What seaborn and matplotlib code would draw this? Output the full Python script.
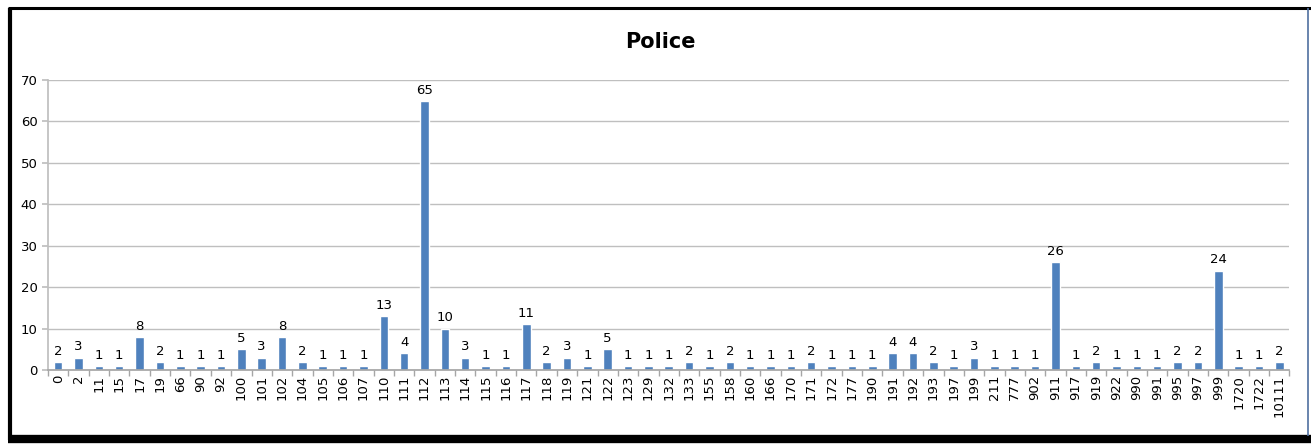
import matplotlib
matplotlib.use("Agg")
import matplotlib.pyplot as plt
import seaborn as sns
import pandas as pd
from matplotlib.lines import Line2D

categories = ["0", "2", "11", "15", "17", "19", "66", "90", "92", "100", "101", "102",
              "104", "105", "106", "107", "110", "111", "112", "113", "114", "115", "116",
              "117", "118", "119", "121", "122", "123", "129", "132", "133", "155", "158",
              "160", "166", "170", "171", "172", "177", "190", "191", "192", "193", "197",
              "199", "211", "777", "902", "911", "917", "919", "922", "990", "991", "995",
              "997", "999", "1720", "1722", "10111"]
values = [2, 3, 1, 1, 8, 2, 1, 1, 1, 5, 3, 8, 2, 1, 1, 1, 13, 4, 65, 10, 3, 1, 1, 11, 2, 3,
          1, 5, 1, 1, 1, 2, 1, 2, 1, 1, 1, 2, 1, 1, 1, 4, 4, 2, 1, 3, 1, 1, 1, 26, 1, 2, 1,
          1, 1, 2, 2, 24, 1, 1, 2]
yticks = [0, 10, 20, 30, 40, 50, 60, 70]

df = pd.DataFrame({"code": categories, "count": values})

sns.set_theme(style="white")
plt.rcParams["font.family"] = ["DejaVu Sans"]
plt.rcParams["text.color"] = "black"
plt.rcParams["xtick.color"] = "black"
plt.rcParams["ytick.color"] = "black"

fig = plt.figure(figsize=(13.11, 4.44), dpi=100)
ax = fig.add_axes([0.0366, 0.1667, 0.947, 0.653])

sns.barplot(data=df, x="code", y="count", order=categories, color="#4F81BD",
            width=0.42, saturation=1, ax=ax)

ax.set_ylim(0, 70)
ax.set_xlim(-0.5, len(categories) - 0.5)
ax.set_yticks(yticks)
ax.yaxis.grid(True, color="#bfbfbf", linewidth=1)
ax.set_axisbelow(True)
ax.set_xlabel("")
ax.set_ylabel("")
for s in ["top", "right"]:
    ax.spines[s].set_visible(False)
ax.spines["left"].set_color("#bfbfbf")
ax.spines["bottom"].set_color("#a6a6a6")
ax.tick_params(axis="y", labelsize=9.5, length=4, color="#bfbfbf", left=True, labelcolor="black")
ax.tick_params(axis="x", labelsize=9.5, rotation=90, length=0, labelcolor="black")
ax.set_xticks([i - 0.5 for i in range(len(categories) + 1)], minor=True)
ax.tick_params(axis="x", which="minor", length=4, color="#a6a6a6", bottom=True)

ax.bar_label(ax.containers[0], labels=[str(v) for v in values], padding=3,
             fontsize=9.5, color="black")

fig.text(0.504, 0.905, "Police", ha="center", va="center", fontsize=15,
         fontweight="bold", color="black")

# outer frame (Excel-like with shadow on left/bottom)
W, H = 1311.0, 444.0
def fl(x0, y0, x1, y1, lw, c):
    fig.add_artist(Line2D([x0 / W, x1 / W], [1 - y0 / H, 1 - y1 / H],
                          transform=fig.transFigure, color=c, linewidth=lw,
                          solid_capstyle="butt"))
fl(8, 8, 1311, 8, 2.2, "black")
fl(10, 8, 10, 440, 3.0, "black")
fl(8, 439, 1311, 439, 6.0, "black")
fl(1308, 8, 1308, 436, 1.2, "#4F6F9F")

fig.savefig("out.png", dpi=100)
